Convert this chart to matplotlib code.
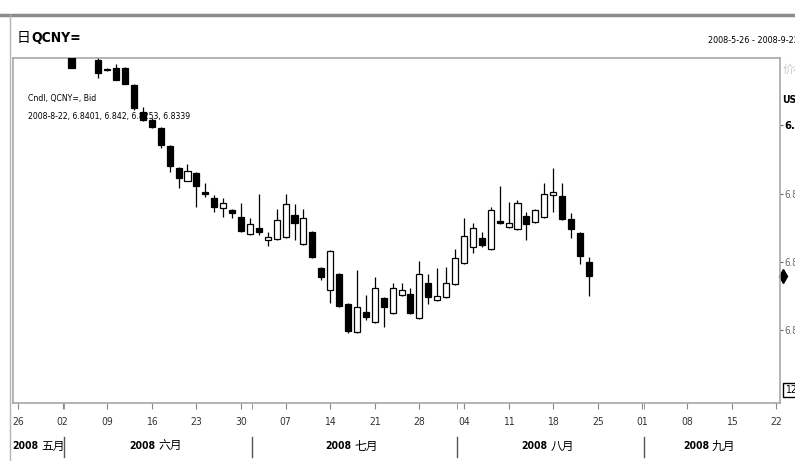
import numpy as np
import pandas as pd
import matplotlib
matplotlib.use('Agg')
import matplotlib.pyplot as plt
import matplotlib.transforms as mtransforms
from matplotlib.patches import Rectangle
from matplotlib.lines import Line2D

plt.rcParams['font.family'] = ['DejaVu Sans', 'Noto Sans CJK SC']
plt.rcParams['font.stretch'] = 'condensed'

# daily bid candles, USD/CNY (QCNY=)
dates = ['2008-06-03', '2008-06-06'] + \
    [d.strftime('%Y-%m-%d') for d in pd.bdate_range('2008-06-09', '2008-08-22')]

opens = [6.9307, 6.9285, 6.9245, 6.9250, 6.9250, 6.9175, 6.9057, 6.9022, 6.8987, 6.8908,
         6.8812, 6.8755, 6.8790, 6.8707, 6.8680, 6.8637, 6.8628, 6.8597, 6.8523, 6.8549,
         6.8496, 6.8501, 6.8510, 6.8606, 6.8479, 6.8531, 6.8374, 6.8277, 6.8347, 6.8216,
         6.8093, 6.8181, 6.8137, 6.8242, 6.8177, 6.8255, 6.8260, 6.8155, 6.8308, 6.8234,
         6.8247, 6.8304, 6.8396, 6.8466, 6.8505, 6.8457, 6.8580, 6.8553, 6.8545, 6.8602,
         6.8575, 6.8597, 6.8693, 6.8689, 6.8588, 6.8527, 6.8401]
highs = [6.9307, 6.9298, 6.9250, 6.9267, 6.9254, 6.9180, 6.9079, 6.9031, 6.8991, 6.8913,
         6.8816, 6.8829, 6.8794, 6.8746, 6.8693, 6.8680, 6.8632, 6.8658, 6.8593, 6.8698,
         6.8531, 6.8632, 6.8698, 6.8654, 6.8632, 6.8536, 6.8378, 6.8453, 6.8352, 6.8220,
         6.8365, 6.8255, 6.8334, 6.8247, 6.8308, 6.8308, 6.8286, 6.8404, 6.8347, 6.8374,
         6.8378, 6.8457, 6.8593, 6.8571, 6.8531, 6.8641, 6.8733, 6.8663, 6.8672, 6.8619,
         6.8632, 6.8746, 6.8812, 6.8746, 6.8615, 6.8531, 6.8420]
lows = [6.9250, 6.9206, 6.9237, 6.9197, 6.9180, 6.9066, 6.9018, 6.8987, 6.8899, 6.8794,
        6.8724, 6.8755, 6.8641, 6.8685, 6.8619, 6.8597, 6.8593, 6.8531, 6.8518, 6.8518,
        6.8470, 6.8496, 6.8505, 6.8496, 6.8474, 6.8418, 6.8321, 6.8220, 6.8203, 6.8089,
        6.8089, 6.8146, 6.8133, 6.8115, 6.8172, 6.8251, 6.8172, 6.8150, 6.8216, 6.8229,
        6.8242, 6.8299, 6.8391, 6.8439, 6.8466, 6.8453, 6.8566, 6.8549, 6.8540, 6.8496,
        6.8571, 6.8593, 6.8619, 6.8584, 6.8505, 6.8391, 6.8253]
closes = [6.9250, 6.9228, 6.9241, 6.9197, 6.9180, 6.9075, 6.9022, 6.8991, 6.8913, 6.8820,
          6.8768, 6.8799, 6.8733, 6.8698, 6.8641, 6.8658, 6.8615, 6.8536, 6.8566, 6.8531,
          6.8510, 6.8584, 6.8654, 6.8571, 6.8593, 6.8422, 6.8334, 6.8448, 6.8207, 6.8098,
          6.8203, 6.8159, 6.8286, 6.8203, 6.8286, 6.8277, 6.8177, 6.8347, 6.8247, 6.8251,
          6.8308, 6.8418, 6.8514, 6.8549, 6.8474, 6.8628, 6.8571, 6.8571, 6.8658, 6.8566,
          6.8628, 6.8698, 6.8707, 6.8588, 6.8545, 6.8426, 6.8339]

start_day = '2008-05-26'
end_day = '2008-09-22'
month_starts = ['2008-06-01', '2008-07-01', '2008-08-01', '2008-09-01']
month_names = ['五月', '六月', '七月', '八月', '九月']
y_ticks = [6.81, 6.84, 6.87, 6.90]

CJK = ['Noto Sans CJK SC', 'DejaVu Sans']

W, H = 795, 461
fig = plt.figure(figsize=(W / 100, H / 100), dpi=100)
fig.patch.set_facecolor('white')
ax = fig.add_axes([13 / W, 1 - 403 / H, (780 - 13) / W, (403 - 58) / H])

# trading-day positions (weekdays only)
xs = np.busday_count(start_day, dates)
x_end = np.busday_count(start_day, end_day)

body_w = 0.68
for xi, o, h, l, c in zip(xs, opens, highs, lows, closes):
    ax.vlines(xi, l, h, color='black', lw=0.9, zorder=2)
    up = c >= o
    ax.add_patch(Rectangle((xi - body_w / 2, min(o, c)), body_w,
                           max(abs(c - o), 0.0003),
                           facecolor='white' if up else 'black',
                           edgecolor='black', lw=0.9, zorder=3))

xmin, xmax = -0.56, x_end + 0.43
ax.set_xlim(xmin, xmax)
ax.set_ylim(6.7782, 6.9294)

for sp in ax.spines.values():
    sp.set_color('#a8a8a8')
    sp.set_linewidth(1.2)

# x axis: mondays
mondays = pd.date_range(start_day, end_day, freq='W-MON')
ax.set_xticks(np.busday_count(start_day, [d.strftime('%Y-%m-%d') for d in mondays]))
ax.set_xticklabels([d.strftime('%d') for d in mondays], fontsize=7.5, color='#333333')
sep_x = np.busday_count(start_day, month_starts) + 0.2
ax.set_xticks(sep_x, minor=True)
ax.tick_params(axis='x', which='both', length=4, color='#888888', pad=6)

# y axis on the right
ax.yaxis.tick_right()
ax.set_yticks(y_ticks)
ax.set_yticklabels(['%.3f' % v for v in y_ticks], fontsize=7, color='#666666')
ax.tick_params(axis='y', length=2.5, color='#666666', pad=0.3)
lbl = ax.get_yticklabels()[-1]
lbl.set_fontweight('bold')
lbl.set_color('black')
lbl.set_fontsize(8)

# month row
trans = mtransforms.blended_transform_factory(ax.transData, ax.transAxes)
bounds = [xmin] + list(sep_x) + [xmax]
for k, name in enumerate(month_names):
    mid = (bounds[k] + bounds[k + 1]) / 2
    if k == 0:
        mid += 0.3
    ax.text(mid - 0.3, -0.125, '2008', transform=trans, ha='right', va='center',
            fontsize=7.5, fontweight='bold', clip_on=False)
    ax.text(mid, -0.125, name, transform=trans, ha='left', va='center',
            fontsize=8.5, family=CJK, clip_on=False)
for sx in sep_x:
    ax.plot([sx, sx], [-0.098, -0.157], transform=trans, color='#555555',
            lw=1, clip_on=False)

# legend text inside plot
ax.text(0.02, 0.884, 'Cndl, QCNY=, Bid', transform=ax.transAxes, fontsize=6.2,
        va='center', zorder=1)
ax.text(0.02, 0.829, '%s, %.4f, %.3f, %.4f, %.4f' % ('2008-8-22', opens[-1], highs[-1],
                                                      lows[-1], closes[-1]),
        transform=ax.transAxes, fontsize=6.2, va='center', zorder=1)

# last price marker
trans_y = mtransforms.blended_transform_factory(ax.transAxes, ax.transData)
ax.plot([1.004], [closes[-1]], transform=trans_y, marker='d', ms=7, color='black',
        clip_on=False)

# header / frame
fig.add_artist(Line2D([0, 1], [1 - 15 / H] * 2, transform=fig.transFigure,
                      color='#8c8c8c', lw=2.5))
fig.add_artist(Line2D([10 / W] * 2, [0, 1 - 15 / H], transform=fig.transFigure,
                      color='#b4b4b4', lw=1))
fig.text(17 / W, 1 - 38 / H, '日', fontsize=10, va='center', family=CJK)
fig.text(31 / W, 1 - 38 / H, 'QCNY=', fontsize=10, fontweight='bold', va='center')
fig.text(708 / W, 1 - 40 / H, '2008-5-26 - 2008-9-22 (GMT)', fontsize=6.5, va='center')
fig.text(783 / W, 1 - 70 / H, '价格', fontsize=8, va='center', color='#c8c8c8',
         family=CJK)
fig.text(782 / W, 1 - 100 / H, 'USD', fontsize=7.5, va='center', fontweight='bold')
fig.text(785 / W, 1 - 390 / H, '12', fontsize=7.5, va='center',
         bbox=dict(facecolor='white', edgecolor='black', lw=1, pad=1.5))

fig.savefig('out.png', dpi=100, facecolor='white')
